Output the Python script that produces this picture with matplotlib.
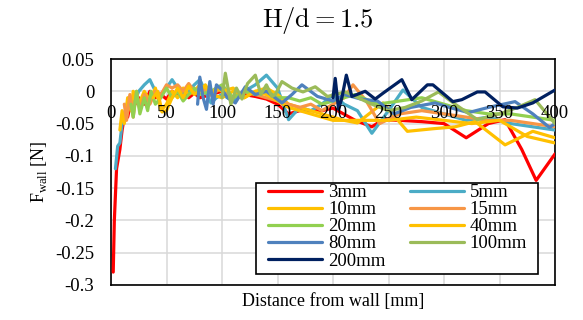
import numpy as np
import matplotlib
matplotlib.use("Agg")
import matplotlib.pyplot as plt
from matplotlib.patches import Rectangle

plt.rcParams['font.family'] = ['Liberation Serif', 'DejaVu Serif']
plt.rcParams['mathtext.fontset'] = 'custom'
plt.rcParams['mathtext.rm'] = 'Liberation Serif'
plt.rcParams['axes.unicode_minus'] = False

# --- data (distance [mm], F_wall [N]) ---
x_3 = [2, 3, 5, 8, 10, 13, 15, 18, 20, 25, 30, 35, 40, 45, 50, 55, 60, 65, 70, 75, 80, 90, 100,
       110, 120, 130, 140, 150, 160, 170, 180, 190, 200, 220, 235, 245, 260, 280, 300, 320, 340,
       355, 370, 383, 400]
y_3 = [-0.28, -0.2, -0.12, -0.09, -0.06, -0.03, -0.04, -0.015, -0.025, -0.01, -0.02, 0.0, -0.01,
       -0.005, -0.012, 0.0, -0.008, 0.0, -0.01, -0.003, -0.01, -0.005, 0.0, -0.012, -0.005, -0.008,
       -0.012, -0.02, -0.035, -0.03, -0.03, -0.03, -0.026, -0.045, -0.055, -0.044, -0.045, -0.047,
       -0.05, -0.072, -0.05, -0.044, -0.09, -0.138, -0.097]

x_5 = [4, 6, 8, 10, 13, 16, 20, 25, 30, 35, 40, 45, 50, 55, 60, 65, 70, 75, 80, 85, 90, 95, 100,
       110, 120, 130, 140, 150, 160, 170, 180, 190, 200, 210, 222, 235, 250, 263, 280, 300, 320,
       340, 360, 380, 400]
y_5 = [-0.12, -0.085, -0.08, -0.05, -0.03, -0.01, -0.02, 0.0, 0.01, 0.018, 0.0, -0.005, 0.005,
       0.018, 0.005, -0.005, 0.0, 0.01, 0.018, 0.0, -0.018, -0.01, -0.005, -0.015, 0.0, 0.01, 0.025,
       0.005, -0.044, -0.025, -0.03, -0.02, -0.005, -0.02, -0.03, -0.065, -0.03, 0.002, -0.025,
       -0.035, -0.045, -0.04, -0.05, -0.055, -0.06]

x_10 = [8, 10, 12, 15, 18, 20, 25, 30, 35, 40, 45, 50, 55, 60, 65, 70, 75, 80, 90, 100, 110, 120,
        130, 140, 150, 160, 170, 180, 190, 200, 210, 222, 245, 267, 290, 310, 328, 355, 380, 400]
y_10 = [-0.06, -0.03, -0.05, -0.01, -0.03, 0.0, -0.02, 0.0, -0.015, 0.005, -0.03, -0.02, 0.0,
        -0.01, 0.005, -0.005, 0.0, 0.01, -0.005, -0.01, 0.0, -0.01, 0.0, 0.005, -0.005, -0.02,
        -0.025, -0.03, -0.035, -0.04, -0.045, -0.049, -0.018, -0.062, -0.058, -0.055, -0.047,
        -0.083, -0.062, -0.072]

x_15 = [12, 14, 17, 20, 23, 26, 30, 35, 40, 45, 50, 55, 60, 65, 70, 75, 80, 90, 100, 110, 120,
        130, 140, 150, 160, 170, 180, 190, 200, 210, 218, 230, 242, 260, 280, 300, 320, 340, 360,
        380, 400]
y_15 = [-0.02, -0.045, -0.005, -0.04, 0.0, -0.03, -0.005, -0.02, 0.0, -0.005, 0.01, 0.005, 0.01,
        0.0, 0.012, 0.0, 0.005, -0.005, 0.005, -0.01, 0.0, -0.005, -0.01, -0.015, -0.02, -0.025,
        -0.02, -0.03, -0.02, -0.01, 0.01, -0.015, -0.05, -0.035, -0.03, -0.035, -0.04, -0.045,
        -0.045, -0.05, -0.055]

x_20 = [18, 20, 23, 26, 30, 33, 36, 40, 45, 50, 55, 60, 65, 70, 75, 80, 90, 100, 110, 120, 130,
        140, 150, 160, 170, 180, 190, 200, 220, 240, 260, 280, 300, 320, 340, 360, 380, 400]
y_20 = [-0.02, -0.04, 0.0, -0.035, -0.01, -0.03, 0.0, -0.02, -0.01, 0.005, -0.01, 0.0, -0.015,
        -0.005, 0.005, -0.005, 0.0, 0.01, -0.01, 0.0, -0.005, 0.0, -0.01, -0.01, -0.015, -0.01,
        -0.02, -0.015, -0.005, -0.02, -0.015, -0.01, -0.02, -0.03, -0.035, -0.035, -0.04, -0.045]

x_40 = [38, 42, 46, 50, 55, 60, 65, 70, 75, 80, 85, 90, 95, 100, 110, 120, 130, 140, 150, 160,
        170, 180, 190, 200, 210, 225, 250, 275, 300, 325, 350, 375, 400]
y_40 = [-0.01, 0.0, -0.032, -0.03, -0.01, 0.005, -0.01, 0.008, -0.005, 0.0, 0.01, -0.005, 0.005,
        0.0, 0.005, -0.01, 0.0, -0.005, -0.015, -0.025, -0.03, -0.035, -0.04, -0.045, -0.045,
        -0.045, -0.045, -0.04, -0.045, -0.05, -0.045, -0.07, -0.08]

x_80 = [78, 80, 83, 86, 89, 92, 95, 100, 105, 112, 121, 130, 140, 154, 163, 172, 186, 200, 210,
        225, 240, 255, 270, 292, 305, 322, 340, 364, 380, 395, 400]
y_80 = [-0.02, 0.022, -0.01, -0.028, 0.015, -0.02, 0.01, 0.002, -0.01, -0.018, 0.007, -0.005,
        0.0, -0.018, -0.005, 0.01, -0.008, -0.015, -0.005, -0.012, -0.015, -0.035, -0.025, -0.018,
        -0.025, -0.033, -0.025, -0.016, -0.035, -0.056, -0.05]

x_100 = [100, 103, 108, 113, 118, 123, 130, 135, 140, 145, 148, 154, 163, 173, 184, 195, 211,
         220, 235, 250, 265, 280, 295, 310, 330, 352, 366, 382, 400]
y_100 = [-0.01, 0.028, -0.02, 0.005, -0.012, 0.012, 0.025, -0.005, 0.01, -0.008, -0.005, 0.015,
         0.005, -0.001, 0.007, -0.008, -0.001, -0.008, -0.02, -0.03, -0.025, -0.015, -0.001, -0.02,
         -0.044, -0.034, -0.025, -0.013, -0.05]

x_200 = [200, 202, 205, 208, 212, 217, 229, 238, 245, 262, 271, 285, 290, 308, 316, 330, 337,
         353, 366, 380, 400]
y_200 = [-0.01, 0.02, -0.028, -0.01, 0.025, -0.008, 0.0, -0.012, -0.003, 0.018, -0.013, 0.01,
         0.01, -0.016, -0.013, -0.001, -0.001, -0.024, -0.026, -0.018, 0.002]

labels = ['3mm', '5mm', '10mm', '15mm', '20mm', '40mm', '80mm', '100mm', '200mm']
xs = [x_3, x_5, x_10, x_15, x_20, x_40, x_80, x_100, x_200]
ys = [y_3, y_5, y_10, y_15, y_20, y_40, y_80, y_100, y_200]
colors = ['#FF0000', '#4BACC6', '#FFC000', '#F79646', '#92D050', '#FFC000', '#4F81BD',
          '#9BBB59', '#002060']

x_ticks = [0, 50, 100, 150, 200, 250, 300, 350, 400]
y_ticks = [0.05, 0, -0.05, -0.1, -0.15, -0.2, -0.25, -0.3]
y_ticklabels = ['0.05', '0', '-0.05', '-0.1', '-0.15', '-0.2', '-0.25', '-0.3']

fig = plt.figure(figsize=(5.83, 3.2), dpi=100)
ax = fig.add_axes([0.1904, 0.1094, 0.952 - 0.1904, 0.8156 - 0.1094])

handles = []
for x, y, c, lab in zip(xs, ys, colors, labels):
    h, = ax.plot(x, y, color=c, lw=2.3, label=lab, solid_joinstyle='round',
                 solid_capstyle='round', zorder=3)
    handles.append(h)

ax.set_xlim(0, 400)
ax.set_ylim(-0.3, 0.05)
ax.set_xticks(x_ticks)
ax.set_yticks(y_ticks)
ax.set_yticklabels(y_ticklabels)
ax.tick_params(axis='x', length=0, labelbottom=False)
ax.tick_params(axis='y', length=0, pad=12, labelsize=13.5)
ax.grid(True, color='#D9D9D9', lw=1.1, zorder=0)
ax.set_axisbelow(True)
for sp in ax.spines.values():
    sp.set_color('black')
    sp.set_linewidth(1.2)

# horizontal axis labels sit just under the y = 0 line
for t in x_ticks:
    ax.annotate(str(t), (t, 0), xytext=(0, -10), textcoords='offset points',
                ha='center', va='top', fontsize=13.5, zorder=6, annotation_clip=False)

ax.set_xlabel('Distance from wall [mm]', fontsize=13)
ax.xaxis.set_label_coords(0.5, -0.035)
ax.set_ylabel(r'F$_{\rm wall}$ [N]', fontsize=13)
ax.yaxis.set_label_coords(-0.14, 0.5)

fig.text(0.546, 0.9375, r'$\mathrm{H/d} = 1.5$', fontsize=19, ha='center', va='center',
         math_fontfamily='cm')

# legend box
ax.add_patch(Rectangle((0.327, 0.049), 0.635, 0.402, transform=ax.transAxes,
                       facecolor='white', edgecolor='black', lw=1.2, zorder=4))
order = [0, 2, 4, 6, 8, 1, 3, 5, 7]
leg = ax.legend([handles[i] for i in order], [labels[i] for i in order], ncol=2,
                loc='upper left', bbox_to_anchor=(0.3536, 0.447), fontsize=13.5,
                frameon=False, handlelength=2.9, handletextpad=0.3,
                columnspacing=1.3, labelspacing=0.0, borderpad=0, borderaxespad=0)
leg.set_zorder(5)

fig.savefig('out.png', dpi=100)
